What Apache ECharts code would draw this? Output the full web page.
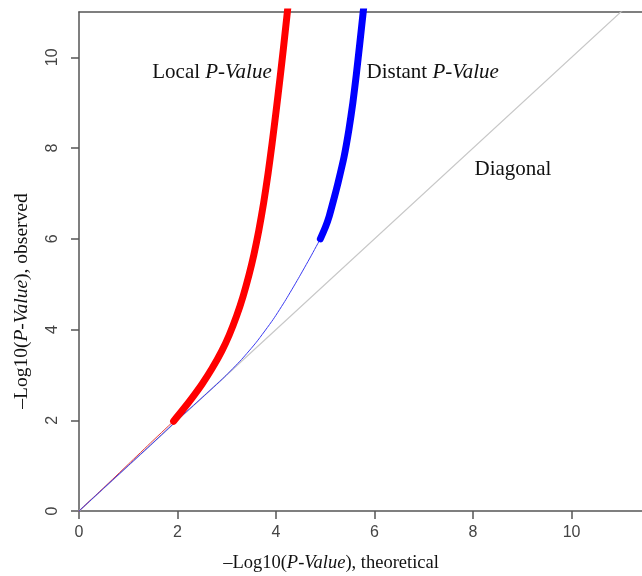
<!DOCTYPE html>
<html><head><meta charset="utf-8">
<script src="https://cdn.jsdelivr.net/npm/echarts@6/dist/echarts.min.js"></script>
<style>html,body{margin:0;padding:0;background:#fff}#c{width:642px;height:576px}</style>
</head><body><div id="c"></div>
<script>
const tickValues = [0, 2, 4, 6, 8, 10];
const diagonal = [[0, 0], [11.6, 11.6]];
const localThin = [[0, 0], [0.5, 0.51], [1.0, 1.03], [1.5, 1.55], [1.92, 1.98]];
const localThick = [[1.92, 1.98], [2.1, 2.22], [2.3, 2.5], [2.5, 2.8], [2.7, 3.14], [2.9, 3.53], [3.05, 3.88], [3.2, 4.3], [3.33, 4.73], [3.45, 5.2], [3.55, 5.65], [3.65, 6.18], [3.75, 6.8], [3.84, 7.45], [3.92, 8.1], [4.0, 8.8], [4.08, 9.53], [4.15, 10.2], [4.22, 10.9], [4.26, 11.3]];
const distantThin = [[0, 0], [0.5, 0.5], [1.0, 1.0], [1.5, 1.5], [2.0, 2.01], [2.5, 2.5], [2.95, 2.95], [3.3, 3.34], [3.6, 3.72], [3.94, 4.22], [4.2, 4.66], [4.45, 5.12], [4.7, 5.6], [4.9, 6.0]];
const distantThick = [[4.9, 6.0], [5.0, 6.25], [5.08, 6.5], [5.18, 6.9], [5.26, 7.24], [5.38, 7.8], [5.48, 8.41], [5.56, 9.0], [5.63, 9.62], [5.7, 10.3], [5.77, 11.0], [5.8, 11.3]];
const xMax = 11.43, yMax = 11.0;
const xTitle = ['–Log10(', 'P-Value', '), theoretical'];
const yTitle = ['–Log10(', 'P-Value', '), observed'];
const labels = [
  { t: ['Local ', 'P-Value'], x: 2.70, y: 9.67 },
  { t: ['Distant ', 'P-Value'], x: 7.18, y: 9.67 },
  { t: ['Diagonal', ''], x: 8.81, y: 7.53 }
];

const chart = echarts.init(document.getElementById('c'), null, { renderer: 'canvas' });
const axisCol = '#555';
const serif = 'Liberation Serif';
function rich(parts, size) {
  return {
    text: '{n|' + parts[0] + '}' + (parts[1] ? '{i|' + parts[1] + '}' : '') + (parts[2] ? '{n|' + parts[2] + '}' : ''),
    rich: {
      n: { fontFamily: serif, fontSize: size, fill: '#111', color: '#111' },
      i: { fontFamily: serif, fontSize: size, fontStyle: 'italic', fill: '#111', color: '#111' }
    }
  };
}
const lineS = (data, color, width, z) => ({
  type: 'line', data, showSymbol: false, smooth: 0.2, z,
  lineStyle: { color, width, cap: 'round', join: 'round' }, silent: true, animation: false
});
chart.setOption({
  animation: false,
  grid: { left: 79, right: 0, top: 12, bottom: 65, containLabel: false },
  xAxis: [{
    type: 'value', min: 0, max: xMax, position: 'bottom',
    axisLine: { show: true, onZero: false, lineStyle: { color: axisCol, width: 1.5 } },
    axisTick: { show: true, length: 8, lineStyle: { color: axisCol, width: 1.5 }, customValues: tickValues },
    axisLabel: { customValues: tickValues, color: '#444', fontFamily: 'Liberation Sans', fontSize: 16, margin: 14 },
    splitLine: { show: false }
  }, {
    type: 'value', min: 0, max: xMax, position: 'top',
    axisLine: { show: true, onZero: false, lineStyle: { color: axisCol, width: 1.5 } },
    axisTick: { show: false }, axisLabel: { show: false }, splitLine: { show: false }
  }],
  yAxis: {
    type: 'value', min: 0, max: yMax,
    axisLine: { show: true, onZero: false, lineStyle: { color: axisCol, width: 1.5 } },
    axisTick: { show: true, length: 8, lineStyle: { color: axisCol, width: 1.5 }, customValues: tickValues },
    axisLabel: { customValues: tickValues, rotate: 90, color: '#444', fontFamily: 'Liberation Sans', fontSize: 16, margin: 18 },
    splitLine: { show: false }
  },
  series: [
    lineS(diagonal, '#c8c8c8', 1.2, 1),
    lineS(localThin, '#e23a3a', 1, 2),
    lineS(distantThin, '#3a3af0', 1, 3),
    lineS(localThick, '#ff0000', 7, 4),
    lineS(distantThick, '#0000ff', 7, 5)
  ],
  graphic: [
    { type: 'text', x: 331, y: 563, style: Object.assign(rich(xTitle, 18.5), { align: 'center', verticalAlign: 'middle' }) },
    { type: 'text', x: 22, y: 301, rotation: Math.PI / 2, style: Object.assign(rich(yTitle, 19.5), { align: 'center', verticalAlign: 'middle' }) }
  ]
});
const g = chart.getOption().graphic[0].elements.slice();
labels.forEach(l => {
  const p = chart.convertToPixel({ gridIndex: 0 }, [l.x, l.y]);
  g.push({ type: 'text', x: p[0], y: p[1], style: Object.assign(rich(l.t, 21), { align: 'center', verticalAlign: 'middle' }) });
});
chart.setOption({ graphic: g }, { replaceMerge: ['graphic'] });
</script></body></html>
